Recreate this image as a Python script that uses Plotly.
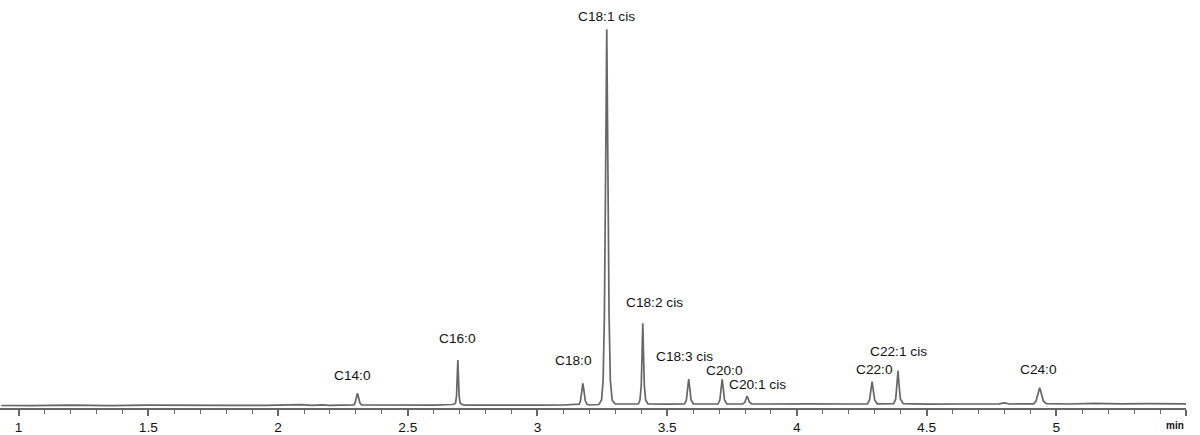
"""
Chromatogram of fatty acid methyl esters (FAME) - retention time in min.
"""

import plotly.graph_objects as go

# detector trace (retention time in min, signal in arbitrary units)
times = [
    0.933, 1.05, 1.2, 1.35, 1.5, 1.65, 1.8, 1.95, 2.09, 2.13, 2.17, 2.2, 2.25,
    2.292, 2.297, 2.301, 2.306, 2.311, 2.315, 2.322,
    2.45, 2.6, 2.67, 2.680, 2.684, 2.688, 2.693, 2.698, 2.702, 2.709, 2.722,
    2.85, 3.0, 3.1, 3.161, 3.166, 3.170, 3.175, 3.180, 3.184, 3.191, 3.2,
    3.237, 3.247, 3.253, 3.258, 3.262, 3.265, 3.267, 3.269, 3.272, 3.276,
    3.281, 3.288, 3.299,
    3.35, 3.389, 3.395, 3.400, 3.403, 3.406, 3.409, 3.412, 3.417, 3.426,
    3.5, 3.567, 3.574, 3.578, 3.583, 3.588, 3.592, 3.601,
    3.65, 3.696, 3.703, 3.707, 3.712, 3.717, 3.721, 3.730,
    3.76, 3.792, 3.800, 3.804, 3.808, 3.812, 3.817, 3.826,
    3.9, 4.05, 4.2, 4.272, 4.280, 4.285, 4.290, 4.295, 4.300, 4.310,
    4.34, 4.373, 4.381, 4.386, 4.390, 4.394, 4.399, 4.410,
    4.5, 4.65, 4.78, 4.80, 4.82, 4.88,
    4.913, 4.922, 4.929, 4.936, 4.943, 4.950, 4.962,
    5.05, 5.15, 5.25, 5.35, 5.45, 5.5,
]
signal = [
    0.5, 0.3, 0.8, 0.4, 0.9, 0.5, 0.7, 0.6, 1.3, 0.6, 1.2, 0.7, 0.8,
    1.2, 3.2, 8.0, 12.7, 8.0, 3.2, 1.0,
    0.6, 0.8, 1.5, 2.0, 3.0, 10.0, 46.0, 10.0, 3.0, 1.5, 0.8,
    0.6, 0.9, 1.0, 1.8, 5.4, 14.0, 22.7, 14.0, 5.4, 1.8, 1.0,
    1.5, 6.0, 25.0, 90.0, 210.0, 320.0, 376.7, 320.0, 210.0, 90.0,
    25.0, 6.0, 2.0,
    1.6, 2.0, 6.0, 20.0, 50.0, 82.7, 50.0, 20.0, 6.0, 2.0,
    1.8, 2.0, 6.0, 16.0, 27.0, 16.0, 6.0, 2.0,
    1.9, 2.0, 6.0, 16.0, 26.7, 16.0, 6.0, 2.0,
    1.9, 2.0, 4.0, 7.5, 10.0, 7.5, 4.0, 2.0,
    1.8, 2.1, 2.0, 2.2, 6.0, 15.0, 24.3, 15.0, 6.0, 2.2,
    2.0, 2.3, 7.0, 21.0, 35.3, 21.0, 7.0, 2.3,
    1.9, 2.0, 2.1, 3.2, 2.0, 2.1,
    2.2, 5.0, 12.0, 18.3, 12.0, 5.0, 2.3,
    2.0, 2.6, 2.1, 2.4, 2.1, 2.1,
]

# peak identification
peak_names = ['C14:0', 'C16:0', 'C18:0', 'C18:1 cis', 'C18:2 cis', 'C18:3 cis',
              'C20:0', 'C20:1 cis', 'C22:0', 'C22:1 cis', 'C24:0']
peak_times = [2.306, 2.693, 3.175, 3.267, 3.406, 3.583,
              3.712, 3.808, 4.290, 4.390, 4.936]

# label placement relative to the apex (pixels)
label_shift = [(-5, 18), (0, 22), (-9, 23), (0, 13), (12, 21), (-4, 23),
               (2, 9), (10, 12), (2, 12), (0, 19), (-1, 18)]

tick_vals = [1, 1.5, 2, 2.5, 3, 3.5, 4, 4.5, 5, 5.5]
tick_text = ['1', '1.5', '2', '2.5', '3', '3.5', '4', '4.5', '5', '']

FONT = 'Liberation Sans, Arial, sans-serif'
GREY = '#666666'

fig = go.Figure()
fig.add_trace(go.Scatter(
    x=times, y=signal, mode='lines',
    line=dict(color=GREY, width=1.7),
    hoverinfo='x+y', showlegend=False,
))

for name, t, (dx, dy) in zip(peak_names, peak_times, label_shift):
    apex = signal[times.index(t)]
    fig.add_annotation(
        x=t, y=apex, text=name, showarrow=False,
        xanchor='center', yanchor='middle',
        xshift=dx, yshift=dy,
        font=dict(family=FONT, size=13.7, color='#111111'),
    )

# unit label at the end of the time axis
fig.add_annotation(
    x=5.5, y=0, xref='x', yref='paper', text='<b>min</b>', showarrow=False,
    xanchor='right', yanchor='top', yshift=-10,
    font=dict(family=FONT, size=10, color='#111111'),
)

fig.update_layout(
    width=1200, height=435,
    margin=dict(l=0, r=14, t=0, b=27),
    plot_bgcolor='white', paper_bgcolor='white',
    font=dict(family=FONT, size=13.7, color='#111111'),
    xaxis=dict(
        range=[0.928, 5.5001],
        showgrid=False, zeroline=False,
        showline=True, linecolor=GREY, linewidth=1.5,
        ticks='outside', ticklen=6, tickwidth=1.5, tickcolor=GREY,
        tickvals=tick_vals, ticktext=tick_text,
        minor=dict(ticks='outside', ticklen=4, tickwidth=1.2,
                   tickcolor=GREY, tick0=1, dtick=0.1),
    ),
    yaxis=dict(range=[-2, 406], visible=False),
)

# the page's default body margin would push the figure off the window
fig.write_html("out.html", config={'displayModeBar': False},
               post_script="document.body.style.margin = '0';")
